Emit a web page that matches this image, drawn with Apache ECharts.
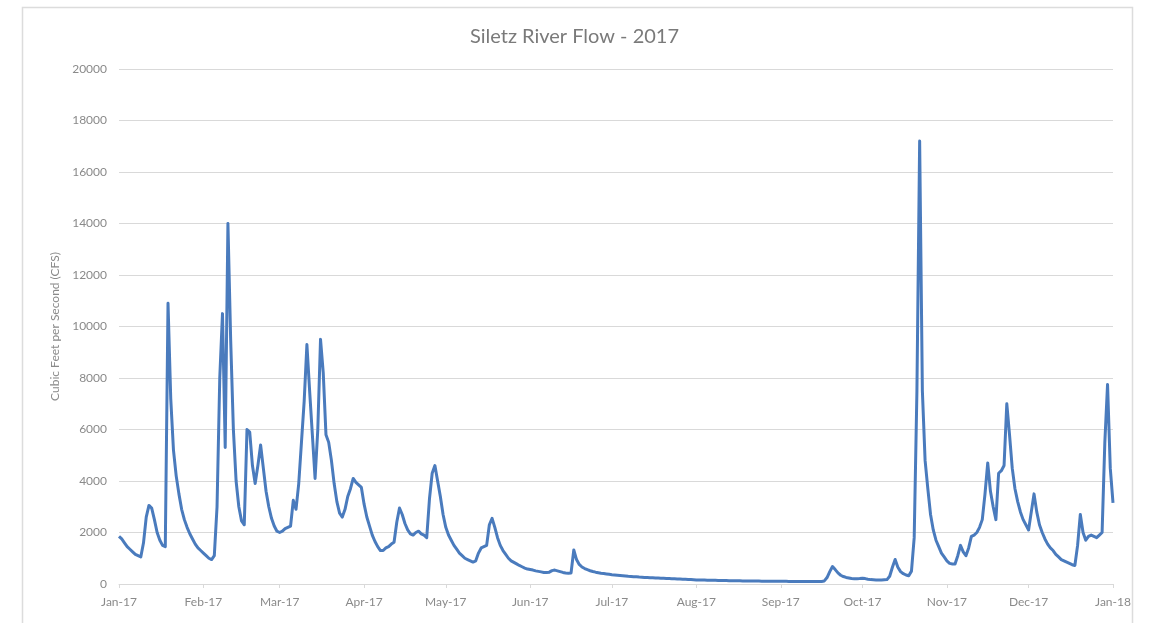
<!DOCTYPE html>
<html>
<head>
<meta charset="utf-8">
<script src="https://cdn.jsdelivr.net/npm/echarts@6/dist/echarts.min.js"></script>
<style>
html,body{margin:0;padding:0;background:#fff;}
#chart{width:1149px;height:623px;}
</style>
</head>
<body>
<div id="chart"></div>
<script>
// Daily flow (CFS), Jan 1 2017 .. Jan 1 2018
const jan = [1850,1750,1600,1450,1350,1250,1150,1100,1050,1600,2600,3050,2950,2500,2000,1700,1500,1450,10900,7200,5200,4200,3500,2900,2500,2200,1950,1750,1550,1400,1300];
const feb = [1200,1100,1000,950,1100,3000,8000,10500,5300,14000,9500,6000,4000,3000,2450,2300,6000,5900,4600,3900,4600,5400,4500,3600,3000,2550,2250,2050];
const mar = [2000,2050,2150,2200,2250,3250,2900,3900,5500,7100,9300,7500,5800,4100,6000,9500,8200,5800,5500,4800,3900,3200,2750,2600,2900,3400,3700,4100,3950,3850,3750];
const apr = [3100,2600,2250,1900,1650,1450,1300,1300,1400,1450,1550,1620,2400,2950,2700,2350,2100,1950,1900,2000,2050,1950,1900,1800,3300,4300,4600,4000,3400,2700];
const may = [2200,1900,1700,1500,1350,1200,1100,1000,950,900,850,900,1200,1400,1450,1500,2300,2550,2200,1800,1500,1300,1150,1000,900,840,780,720,670,620,580];
const jun = [560,540,510,490,470,450,450,460,520,540,510,480,450,430,420,430,1320,950,760,660,600,555,515,485,460,440,420,405,390,375];
const jul = [360,350,340,330,320,310,300,295,285,280,270,265,255,250,245,240,235,230,225,220,215,210,205,200,195,190,185,180,175,170,165];
const aug = [160,158,155,152,150,148,145,142,140,138,135,132,130,128,126,124,122,120,118,116,115,114,113,112,111,110,109,108,107,106,105];
const sep = [104,103,102,101,100,100,99,98,98,97,97,96,96,95,95,100,120,250,480,680,560,430,340,290,255,235,215,205,200,210];
const oct = [225,210,185,170,165,160,160,160,165,170,300,650,950,650,480,400,350,320,500,1800,7500,17200,7500,4800,3700,2700,2100,1700,1450,1200,1050];
const nov = [900,800,780,780,1100,1500,1250,1100,1400,1850,1900,2000,2200,2500,3500,4700,3600,3000,2500,4300,4400,4600,7000,5800,4500,3700,3200,2800,2500,2300];
const dec = [2100,2800,3500,2800,2300,2000,1750,1550,1400,1300,1150,1050,950,900,850,800,750,720,1500,2700,2000,1700,1850,1900,1850,1800,1900,2000,5500,7750,4500,3150];

const monthNames = ['Jan','Feb','Mar','Apr','May','Jun','Jul','Aug','Sep','Oct','Nov','Dec'];
const yTicks = [0,2000,4000,6000,8000,10000,12000,14000,16000,18000,20000];

const flow = [].concat(jan,feb,mar,apr,may,jun,jul,aug,sep,oct,nov,dec);

// Category dates
const dates = [];
const start = Date.UTC(2017,0,1);
for (let i = 0; i < flow.length; i++) {
  const d = new Date(start + i*86400000);
  dates.push(d.getUTCFullYear() + '-' + String(d.getUTCMonth()+1).padStart(2,'0') + '-' + String(d.getUTCDate()).padStart(2,'0'));
}
function isMonthStart(idx){ return dates[idx] && dates[idx].slice(8) === '01'; }
function monthLabel(v){
  const m = parseInt(v.slice(5,7),10)-1;
  return monthNames[m] + '-' + v.slice(2,4);
}

const FONT = 'Lato, "Liberation Sans", sans-serif';
const chart = echarts.init(document.getElementById('chart'), null, {renderer:'canvas'});
chart.setOption({
  animation:false,
  backgroundColor:'#fff',
  title:{
    text:'Siletz River Flow - 2017',
    left:'center', top:22,
    textStyle:{fontFamily:FONT, fontSize:20, fontWeight:'normal', color:'#7a7a7a'}
  },
  graphic:[{
    type:'rect', left:20, top:5, silent:true,
    shape:{width:1110, height:640},
    style:{fill:'none', stroke:'#dcdcdc', lineWidth:1.5}
  }],
  grid:{left:119, right:36, top:69, bottom:39, containLabel:false},
  xAxis:{
    type:'category',
    data:dates,
    boundaryGap:false,
    axisLine:{lineStyle:{color:'#d9d9d9', width:1}},
    axisTick:{show:true, interval:function(i){return isMonthStart(i);}, length:4, lineStyle:{color:'#d9d9d9'}},
    axisLabel:{
      interval:function(i){return isMonthStart(i);},
      formatter:function(v){return monthLabel(v);},
      color:'#8a8a8a', fontFamily:FONT, fontSize:12, margin:12
    },
    splitLine:{show:false}
  },
  yAxis:{
    type:'value',
    min:yTicks[0], max:yTicks[yTicks.length-1], interval:2000,
    name:'Cubic Feet per Second (CFS)',
    nameLocation:'middle', nameGap:55, nameRotate:90,
    nameTextStyle:{color:'#8a8a8a', fontFamily:FONT, fontSize:12},
    axisLine:{show:false}, axisTick:{show:false},
    axisLabel:{color:'#8a8a8a', fontFamily:FONT, fontSize:12, margin:12,
      formatter:function(v){return String(v);}},
    splitLine:{lineStyle:{color:'#d9d9d9', width:1}}
  },
  series:[{
    type:'line',
    data:flow,
    showSymbol:false,
    smooth:false,
    lineStyle:{color:'#4a7bbd', width:3, join:'round'},
    itemStyle:{color:'#4a7bbd'}
  }]
});
</script>
</body>
</html>
